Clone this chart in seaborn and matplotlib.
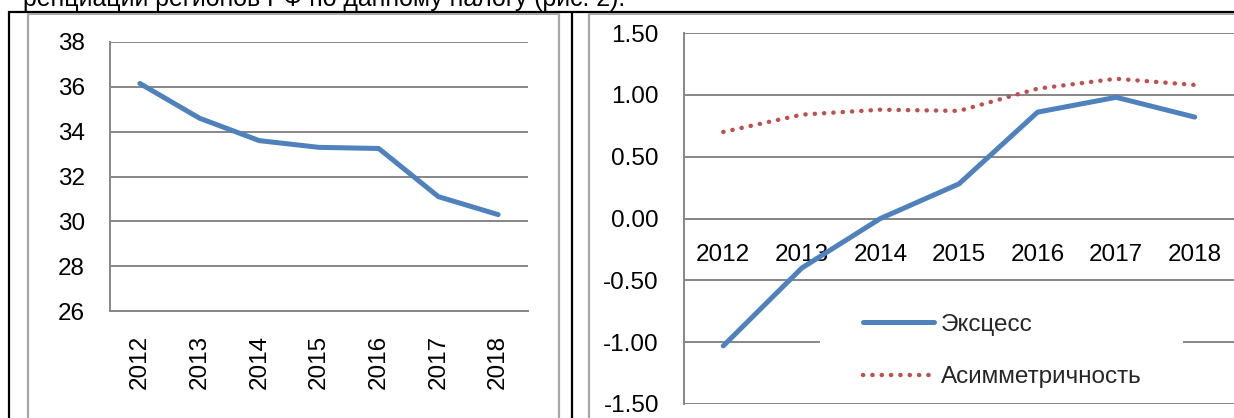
import matplotlib
matplotlib.use("Agg")
import matplotlib.pyplot as plt
from matplotlib.lines import Line2D
from matplotlib.patches import Rectangle
import seaborn as sns
import pandas as pd
import numpy as np

years = ["2012", "2013", "2014", "2015", "2016", "2017", "2018"]
left_values = [36.15, 34.6, 33.6, 33.3, 33.25, 31.1, 30.3]
kurtosis = [-1.03, -0.40, 0.0, 0.28, 0.86, 0.98, 0.82]
skewness = [0.70, 0.84, 0.88, 0.87, 1.05, 1.13, 1.08]
left_yticks = [26, 28, 30, 32, 34, 36, 38]
right_yticks = [-1.5, -1.0, -0.5, 0.0, 0.5, 1.0, 1.5]
label_kurt = "Эксцесс"
label_skew = "Асимметричность"
top_text = "ренциации регионов РФ по данному налогу (рис. 2)."

sns.set_theme(style="white")
plt.rcParams["font.family"] = ["Liberation Sans", "DejaVu Sans"]

W, H = 1234, 418
fig = plt.figure(figsize=(W / 100, H / 100), dpi=100)
fig.patch.set_facecolor("white")

GRID = "#868686"
BLUE = "#4F81BD"
RED = "#C0504D"
FS = 17.5


def fx(px):
    return px / W


def fy(py):
    return 1 - py / H


def vline(x, y0, y1, color, lw):
    fig.add_artist(Line2D([fx(x), fx(x)], [fy(y0), fy(y1)], color=color, lw=lw, solid_capstyle="butt"))


def hline(y, x0, x1, color, lw):
    fig.add_artist(Line2D([fx(x0), fx(x1)], [fy(y), fy(y)], color=color, lw=lw, solid_capstyle="butt"))


# decorative table / chart frames
hline(11.5, 8, W, "black", 1.6)
vline(8.5, 11, H, "black", 1.6)
vline(572, 11, H, "black", 1.6)
hline(13.5, 28, 559, "#A6A6A6", 1.4)
vline(28, 13, H, "#A6A6A6", 1.6)
vline(559, 13, H, "#A6A6A6", 1.6)
hline(13.5, 589, W, "#A6A6A6", 1.4)
vline(589, 13, H, "#A6A6A6", 1.6)

fig.text(fx(23), fy(6), top_text, fontsize=17.9, va="baseline", ha="left", color="black")

# ---------- left chart ----------
axL = fig.add_axes([fx(110), fy(311), fx(528 - 110), fy(42) - fy(311)])
dfL = pd.DataFrame({"year": years, "value": left_values})
dfL["pos"] = np.arange(len(years))
sns.lineplot(data=dfL, x="pos", y="value", ax=axL, color=BLUE, lw=3.6,
             solid_joinstyle="round", solid_capstyle="round", zorder=5)
axL.set_xlim(-0.5, len(years) - 0.5)
axL.set_ylim(left_yticks[0], left_yticks[-1])
axL.set_yticks(left_yticks)
axL.set_yticklabels([str(v) for v in left_yticks])
axL.set_xticks(np.arange(len(years)))
axL.set_xticklabels(years, rotation=90, va="top")
axL.set_xticks(np.arange(len(years) + 1) - 0.5, minor=True)
axL.tick_params(axis="x", which="major", length=0, pad=17.5, labelsize=FS, labelcolor="black")
axL.tick_params(axis="x", which="minor", length=6, width=1.3, color=GRID, direction="out")
axL.tick_params(axis="y", which="major", length=6, width=1.3, color=GRID, direction="out",
                pad=12, labelsize=FS, labelcolor="black")
axL.set_xlabel("")
axL.set_ylabel("")
for s in ["top", "right"]:
    axL.spines[s].set_visible(False)
for s in ["left", "bottom"]:
    axL.spines[s].set_color(GRID)
    axL.spines[s].set_linewidth(1.4)
axL.yaxis.grid(True, color=GRID, lw=1.4)
axL.set_axisbelow(True)
axL.set_facecolor("none")

# ---------- right chart ----------
axR = fig.add_axes([fx(684), fy(404), 1 - fx(684), fy(33) - fy(404)])
dfR = pd.DataFrame({"year": years, "pos": np.arange(len(years)),
                    label_kurt: kurtosis, label_skew: skewness})
sns.lineplot(data=dfR, x="pos", y=label_kurt, ax=axR, color=BLUE, lw=3.6,
             solid_joinstyle="round", solid_capstyle="round", zorder=5, label=label_kurt)
sns.lineplot(data=dfR, x="pos", y=label_skew, ax=axR, color=RED, lw=3.2,
             linestyle=(0, (0.05, 2.05)), dash_capstyle="round", zorder=5, label=label_skew)
axR.set_xlim(-0.5, len(years) - 0.5)
axR.set_ylim(right_yticks[0], right_yticks[-1])
axR.set_yticks(right_yticks)
axR.set_yticklabels([f"{v:.2f}" for v in right_yticks])
axR.set_xticks(np.arange(len(years)))
axR.set_xticklabels(years)
axR.set_xticks(np.arange(len(years) + 1) - 0.5, minor=True)
axR.tick_params(axis="x", which="major", length=0, pad=18.5, labelsize=FS, labelcolor="black")
axR.tick_params(axis="x", which="minor", length=6, width=1.3, color=GRID, direction="out")
axR.tick_params(axis="y", which="major", length=6, width=1.3, color=GRID, direction="out",
                pad=12, labelsize=FS, labelcolor="black")
axR.set_xlabel("")
axR.set_ylabel("")
for s in ["top", "right"]:
    axR.spines[s].set_visible(False)
axR.spines["left"].set_color(GRID)
axR.spines["left"].set_linewidth(1.4)
axR.spines["bottom"].set_position(("data", 0))
axR.spines["bottom"].set_color(GRID)
axR.spines["bottom"].set_linewidth(1.4)
axR.yaxis.grid(True, color=GRID, lw=1.4)
axR.set_axisbelow(True)
axR.set_facecolor("none")

# white legend area covering gridline
axR.add_patch(Rectangle(((820 - 684) / 550, (404 - 398) / 371), 363 / 550, 108 / 371,
                        transform=axR.transAxes, facecolor="white", edgecolor="none", zorder=2))
leg = axR.legend(loc="center left", bbox_to_anchor=((851 - 684) / 550, (404 - 351) / 371),
                 frameon=False, fontsize=FS, handlelength=2.9, handletextpad=0.3,
                 labelspacing=1.24, borderpad=0)
leg.set_zorder(6)

fig.savefig("out.png", dpi=100, facecolor="white")
